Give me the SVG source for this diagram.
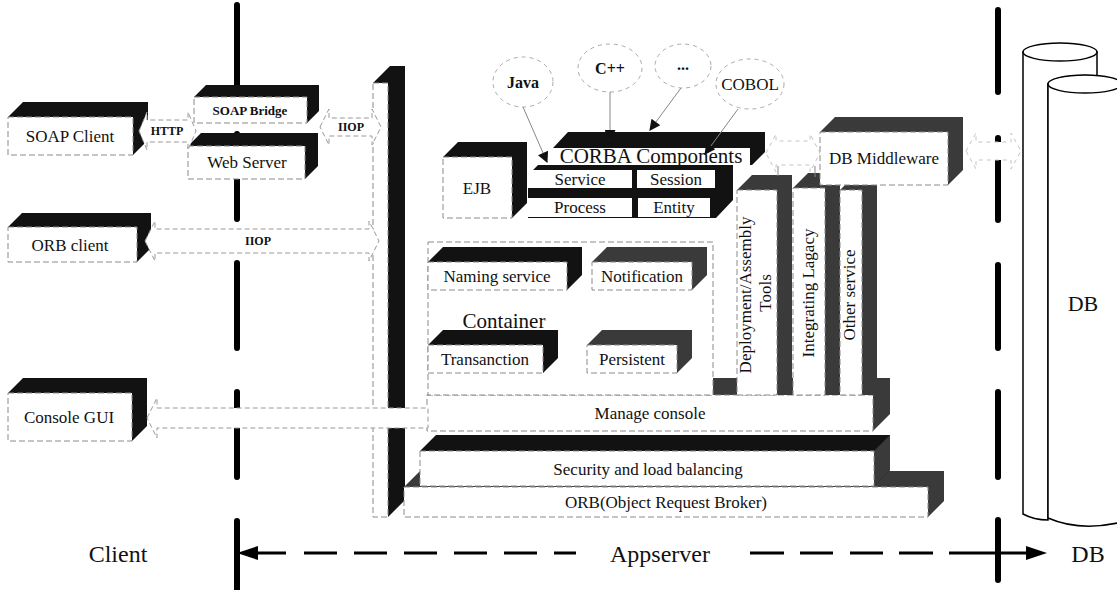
<svg xmlns="http://www.w3.org/2000/svg" width="1117" height="590" viewBox="0 0 1117 590" font-family="'Liberation Serif','DejaVu Serif',serif">
<style>
.t{font-family:'Liberation Serif','DejaVu Serif',serif;fill:#111;text-anchor:middle}
.s17{font-size:17px}
.s21{font-size:21px}
.s24{font-size:24px}
.b12{font-size:12px;font-weight:bold}
.b13{font-size:13px;font-weight:bold}
.b16{font-size:16px;font-weight:bold}
.k{fill:#121212}
.g{fill:#3a3a3a}
.f{fill:#fff;stroke:#8a8a8a;stroke-width:1;stroke-dasharray:6 3}
.ba{fill:#fff;stroke:#9a9a9a;stroke-width:1;stroke-dasharray:5 3}
.fa{fill:#fff;stroke:#c4c4c4;stroke-width:1;stroke-dasharray:4 4}
.el{fill:#fff;stroke:#aaa;stroke-width:1;stroke-dasharray:4 4}
.ln{fill:none;stroke:#888;stroke-width:1}
.thick{fill:none;stroke:#000;stroke-width:6;stroke-linecap:round}
.ax{fill:none;stroke:#000;stroke-width:3}
.cyl{fill:#fff;stroke:#000;stroke-width:1.5}
</style>
<defs>
<marker id="ah" viewBox="0 0 10 10" refX="9" refY="5" markerUnits="userSpaceOnUse" markerWidth="15" markerHeight="11" orient="auto"><path d="M0,0 L10,5 L0,10 z" fill="#111"/></marker>
</defs>
<rect width="1117" height="590" fill="#fff"/>

<g id="tier-lines">
<path class="thick" d="M237,5 V90 M237,134 V219 M237,263 V348 M237,392 V477 M237,521 V595"/>
<path class="thick" d="M998,10 V92 M998,138 V220 M998,265 V348 M998,392 V477 M998,520 V580"/>
</g>

<g id="db">
<path class="cyl" d="M1023,52 V514 Q1034,520 1048,520 L1048,84 A37,9 0 0 1 1097,76 V52 Z"/>
<ellipse class="cyl" cx="1060" cy="52" rx="37" ry="9"/>
<path class="cyl" d="M1048,84 V518 Q1080,532 1122,522 V84 Z"/>
<ellipse class="cyl" cx="1085" cy="84" rx="37" ry="9"/>
<text class="t" x="1083" y="311" font-size="22">DB</text>
</g>

<g id="bar">
<polygon class="k" points="373,83 390,66 405,66 405,500 388,517 388,83"/>
<rect class="f" x="373" y="83" width="15" height="434"/>
</g>

<g id="orb">
<polygon class="g" points="404,487 420,471 944,471 944,501 928,517 928,487"/>
<rect class="f" x="404" y="487" width="524" height="30"/>
<text class="t s17" x="666" y="508">ORB(Object Request Broker)</text>
</g>

<g id="security">
<polygon class="k" points="420,451 436,435 890,435 890,470 874,486 874,451"/>
<polygon class="g" points="874,451 890,435 890,470 874,486"/>
<rect class="f" x="420" y="451" width="454" height="35"/>
<text class="t s17" x="648" y="475">Security and load balancing</text>
</g>

<g id="manage-console">
<polygon class="g" points="427,395 444,378 890,378 890,414 873,431 873,395"/>
<rect class="f" x="427" y="395" width="446" height="36"/>
<text class="t s17" x="650" y="419">Manage console</text>
</g>

<g id="container">
<rect class="f" x="428" y="242" width="285" height="153"/>
<text class="t s21" x="504" y="328">Container</text>
</g>
<g id="naming">
<polygon class="k" points="428,262 443,247 582,247 582,275 567,290 567,262"/>
<rect class="f" x="428" y="262" width="139" height="28"/>
<text class="t s17" x="497" y="282">Naming service</text>
</g>
<g id="notification">
<polygon class="g" points="592,262 607,247 707,247 707,275 692,290 692,262"/>
<rect class="f" x="592" y="262" width="100" height="28"/>
<text class="t s17" x="642" y="282">Notification</text>
</g>
<g id="transaction">
<polygon class="k" points="428,345 443,330 558,330 558,358 543,373 543,345"/>
<rect class="f" x="428" y="345" width="115" height="28"/>
<text class="t s17" x="485" y="365">Transanction</text>
</g>
<g id="persistent">
<polygon class="g" points="587,345 602,330 692,330 692,358 677,373 677,345"/>
<rect class="f" x="587" y="345" width="90" height="28"/>
<text class="t s17" x="632" y="365">Persistent</text>
</g>

<g id="deployment">
<polygon class="g" points="737,190 752,175 792,175 792,395 777,395 777,190"/>
<rect class="f" x="737" y="190" width="40" height="205"/>
<text class="t s17" transform="translate(751,295) rotate(-90)">Deployment/Assembly</text>
<text class="t s17" transform="translate(771,293) rotate(-90)">Tools</text>
</g>
<g id="integrating">
<polygon class="g" points="793,188 808,173 840,173 840,395 825,395 825,188"/>
<rect class="f" x="793" y="188" width="32" height="207"/>
<text class="t s17" transform="translate(814,293) rotate(-90)">Integrating Lagacy</text>
</g>
<g id="other-service">
<polygon class="g" points="840,190 855,175 877,175 877,395 862,395 862,190"/>
<rect class="f" x="840" y="190" width="22" height="205"/>
<text class="t s17" transform="translate(855,295) rotate(-90)">Other service</text>
</g>

<g id="ejb">
<polygon class="k" points="443,157 458,142 527,142 527,203 512,218 512,157"/>
<rect class="f" x="443" y="157" width="69" height="61"/>
<text class="t s17" x="477" y="194">EJB</text>
</g>
<g id="corba">
<polygon class="k" points="553,148 568,132 765,132 765,152 752,165 733,165 733,200 716,218 528,218 528,175 538,165 553,165"/>
<rect x="553" y="148" width="197" height="17" fill="#fff"/>
<text class="t s21" x="651" y="163">CORBA Components</text>
<rect x="528" y="170" width="104" height="18" fill="#fff"/>
<text class="t s17" x="580" y="185">Service</text>
<rect x="637" y="170" width="78" height="18" fill="#fff"/>
<text class="t s17" x="676" y="185">Session</text>
<rect x="528" y="198" width="104" height="19" fill="#fff"/>
<text class="t s17" x="580" y="213">Process</text>
<rect x="638" y="198" width="72" height="19" fill="#fff"/>
<text class="t s17" x="674" y="213">Entity</text>
</g>

<g id="db-middleware">
<polygon class="g" points="820,132 835,117 963,117 963,170 948,185 948,132"/>
<rect class="f" x="820" y="132" width="128" height="53"/>
<text class="t s17" x="884" y="164">DB Middleware</text>
</g>

<g id="soap-client">
<polygon class="k" points="8,117 23,102 148,102 148,140 133,155 133,117"/>
<rect class="f" x="8" y="117" width="125" height="38"/>
<text class="t s17" x="70" y="142">SOAP Client</text>
</g>
<g id="orb-client">
<polygon class="k" points="8,227 22,213 151,213 151,248 137,262 137,227"/>
<rect class="f" x="8" y="227" width="129" height="35"/>
<text class="t s17" x="70" y="251">ORB client</text>
</g>
<g id="console-gui">
<polygon class="k" points="8,393 23,378 147,378 147,426 132,441 132,393"/>
<rect class="f" x="8" y="393" width="124" height="48"/>
<text class="t s17" x="69" y="423">Console GUI</text>
</g>
<g id="soap-bridge">
<polygon class="k" points="194,97 206,85 319,85 319,111 307,123 307,97"/>
<rect class="f" x="194" y="97" width="113" height="26"/>
<text class="t b13" x="250" y="115">SOAP Bridge</text>
</g>
<g id="web-server">
<polygon class="k" points="188,146 201,133 318,133 318,166 305,179 305,146"/>
<rect class="f" x="188" y="146" width="117" height="33"/>
<text class="t s17" x="247" y="168">Web Server</text>
</g>

<g id="languages">
<g id="java"><ellipse class="el" cx="523" cy="82" rx="30" ry="25"/><text class="t b16" x="523" y="88">Java</text></g>
<g id="cpp"><ellipse class="el" cx="610" cy="68" rx="32" ry="24"/><text class="t b16" x="610" y="74">C++</text></g>
<g id="etc"><ellipse class="el" cx="683" cy="66" rx="28" ry="22"/><text class="t b16" x="683" y="70">...</text></g>
<g id="cobol"><ellipse class="el" cx="750" cy="84" rx="34" ry="25"/><text class="t s17" x="750" y="90">COBOL</text></g>
</g>

<g id="connectors">
<polygon class="ba" points="139,131 147,112 147,120 188,120 188,112 196,131 188,150 188,142 147,142 147,150"/>
<text class="t b12" x="167" y="135">HTTP</text>
<polygon class="ba" points="320,127 329,109 329,118 372,118 372,109 381,127 372,145 372,136 329,136 329,145"/>
<text class="t b12" x="351" y="131">IIOP</text>
<polygon class="ba" points="145,241 155,221 155,229 369,229 369,221 379,241 369,261 369,253 155,253 155,261"/>
<text class="t b12" x="258" y="245">IIOP</text>
<polygon class="ba" points="147,418 157,398 157,408 428,408 428,428 157,428 157,438"/>
<polygon class="fa" points="966,151 976,133 976,142 1011,142 1011,133 1021,151 1011,169 1011,160 976,160 976,169"/>
<polygon class="fa" points="766,153 776,134 776,141 810,141 810,134 820,153 810,172 810,165 776,165 776,172"/>
<path class="ln" stroke="#bbb" d="M778,166 V176 M815,166 V177"/>
<path class="ln" d="M523,107 L547,162" marker-end="url(#ah)"/>
<path class="ln" d="M610,92 L610,140" marker-end="url(#ah)"/>
<path class="ln" stroke="#bbb" d="M681,88 L650,130" marker-end="url(#ah)"/>
<path class="ln" stroke="#bbb" d="M738,109 L705,154" marker-end="url(#ah)"/>
<path class="ax" d="M250,553 H286 M304,553 H337 M354,553 H387 M404,553 H437 M454,553 H487 M504,553 H537 M554,553 H576"/>
<path class="ax" d="M750,553 H784 M800,553 H833 M850,553 H883 M899,553 H933 M949,553 H1030"/>
<polygon points="237,553 258,546 258,560" fill="#000"/>
<polygon points="1047,553 1026,546 1026,560" fill="#000"/>
</g>

<g id="tier-labels">
<text class="t s24" x="118" y="562">Client</text>
<text class="t s24" x="660" y="562">Appserver</text>
<text class="t s24" x="1088" y="562">DB</text>
</g>
</svg>
